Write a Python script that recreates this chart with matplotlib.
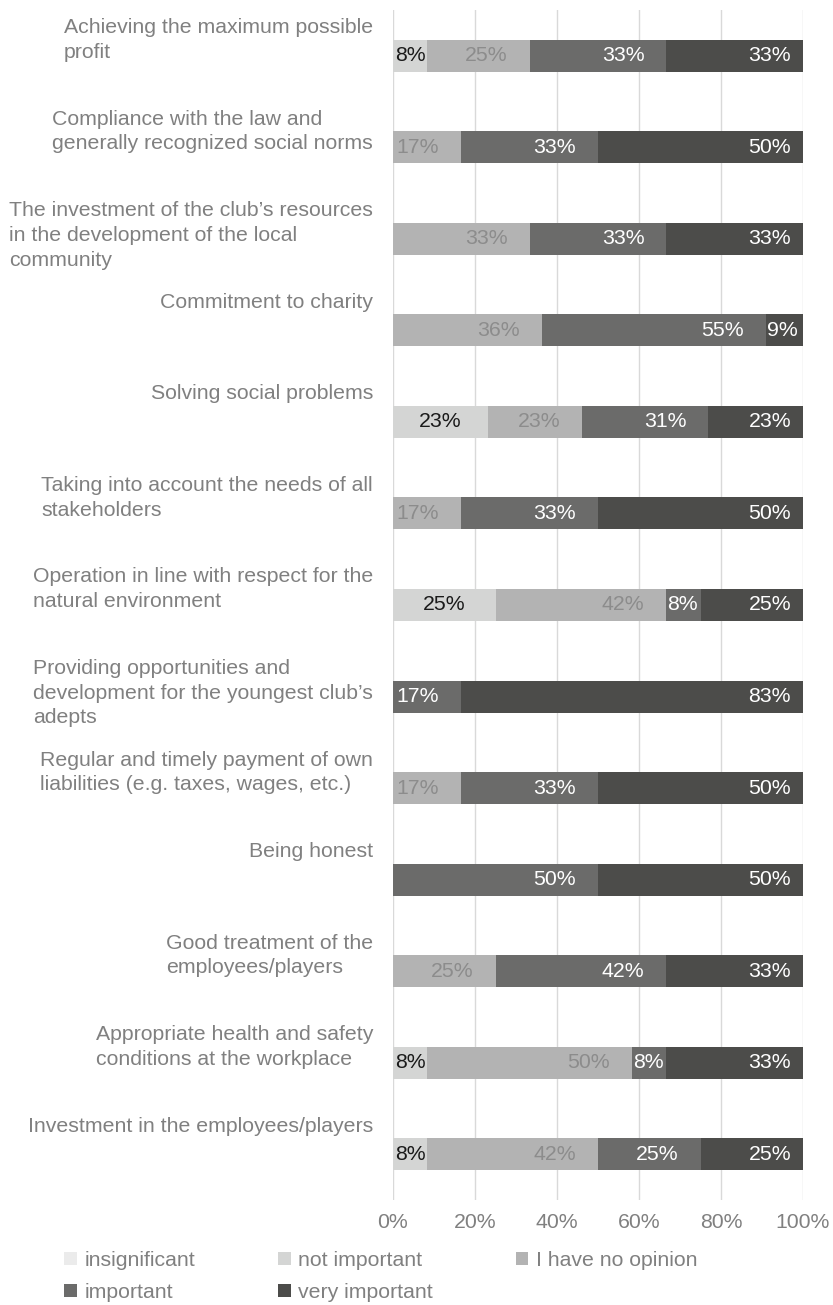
import matplotlib

matplotlib.use("Agg")
import matplotlib.pyplot as plt
import numpy as np
from matplotlib.patches import Patch
from matplotlib.transforms import offset_copy, blended_transform_factory

plt.rcParams["font.family"] = ["Liberation Sans", "DejaVu Sans"]

statements = [
    "Achieving the maximum possible\nprofit",
    "Compliance with the law and\ngenerally recognized social norms",
    "The investment of the club\u2019s resources\nin the development of the local\ncommunity",
    "Commitment to charity",
    "Solving social problems",
    "Taking into account the needs of all\nstakeholders",
    "Operation in line with respect for the\nnatural environment",
    "Providing opportunities and\ndevelopment for the youngest club\u2019s\nadepts",
    "Regular and timely payment of own\nliabilities (e.g. taxes, wages, etc.)",
    "Being honest",
    "Good treatment of the\nemployees/players",
    "Appropriate health and safety\nconditions at the workplace",
    "Investment in the employees/players",
]

series_names = ["insignificant", "not important", "I have no opinion", "important", "very important"]

# shares of answers in %
insignificant = [0, 0, 0, 0, 0, 0, 0, 0, 0, 0, 0, 0, 0]
not_important = [8.33, 0, 0, 0, 23.08, 0, 25.0, 0, 0, 0, 0, 8.33, 8.33]
no_opinion = [25.0, 16.67, 33.33, 36.36, 23.08, 16.67, 41.67, 0, 16.67, 0, 25.0, 50.0, 41.67]
important = [33.33, 33.33, 33.33, 54.55, 30.77, 33.33, 8.33, 16.67, 33.33, 50.0, 41.67, 8.33, 25.0]
very_important = [33.33, 50.0, 33.33, 9.09, 23.08, 50.0, 25.0, 83.33, 50.0, 50.0, 33.33, 33.33, 25.0]

series = [insignificant, not_important, no_opinion, important, very_important]
colors = ["#ebebeb", "#d4d5d4", "#b3b3b3", "#6b6b6a", "#4c4c4a"]
text_colors = ["#1a1a1a", "#1a1a1a", "#8c8c8c", "white", "white"]
end_pads = [0, 0, 22, 22, 12]  # px from segment end for "inside end" labels

label_gray = "#808080"
fs = 15.3

fig = plt.figure(figsize=(8.33, 13.05), dpi=100)
ax = fig.add_axes([393 / 833, 1 - 1200 / 1305, 410 / 833, 1190 / 1305])

y = np.arange(len(statements))
left = np.zeros(len(statements))
for k, vals in enumerate(series):
    vals = np.array(vals, dtype=float)
    ax.barh(y, vals, height=0.35, left=left, color=colors[k], linewidth=0)
    for i, (v, l0) in enumerate(zip(vals, left)):
        if v <= 0:
            continue
        txt = f"{v:.0f}%"
        if k <= 1:
            x, ha, dx = l0 + v / 2, "center", 0
        elif v < 10:
            x, ha, dx = l0, "left", 1
        else:
            x, ha, dx = l0 + v, "right", -end_pads[k]
        tr = offset_copy(ax.transData, fig=fig, x=dx, y=0, units="dots")
        ax.text(x, i, txt, ha=ha, va="center", color=text_colors[k],
                fontsize=fs, transform=tr)
    left = left + vals

ax.set_xlim(0, 100)
ax.set_ylim(len(statements) - 0.5, -0.5)
ax.set_xticks(np.arange(0, 101, 20))
ax.set_xticklabels([f"{t}%" for t in range(0, 101, 20)])
ax.set_yticks([])
ax.tick_params(axis="x", length=0, pad=9, labelsize=fs, labelcolor=label_gray)
ax.grid(axis="x", color="#d9d9d9", linewidth=1.0)
ax.set_axisbelow(True)
for s in ax.spines.values():
    s.set_visible(False)

# category labels sit above each bar, right-aligned next to the axis
tr_lab = blended_transform_factory(ax.transAxes, ax.transData)
tr_lab = offset_copy(tr_lab, fig=fig, x=-20, y=0, units="dots")
for i, name in enumerate(statements):
    ax.text(0, i - 0.41, name, ha="right", va="top", multialignment="left",
            color=label_gray, fontsize=fs, transform=tr_lab, linespacing=1.38)

handles = [Patch(facecolor=c, edgecolor="none") for c in colors]
order = [0, 3, 1, 4, 2]
fig.legend([handles[j] for j in order], [series_names[j] for j in order],
           ncol=3, loc="upper left", bbox_to_anchor=(64 / 833, 1 - 1251 / 1305),
           frameon=False, fontsize=fs, labelcolor=label_gray,
           handlelength=0.6, handleheight=0.6, handletextpad=0.35,
           columnspacing=3.9, labelspacing=0.62, borderpad=0, borderaxespad=0)

fig.savefig("out.png", dpi=100)
